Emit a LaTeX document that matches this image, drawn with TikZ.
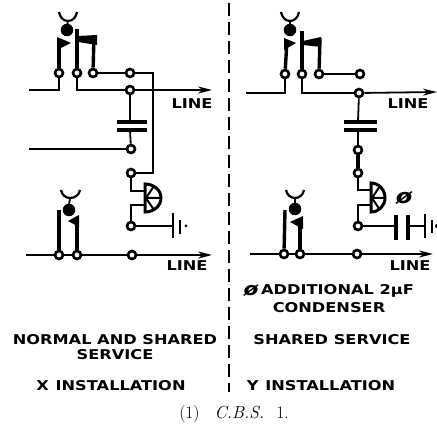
\documentclass[tikz,border=0pt]{standalone}
\usepackage{fontspec}
\setsansfont[FakeStretch=1.2]{DejaVu Sans}
\usetikzlibrary{arrows.meta,positioning,calc}
\tikzset{
    wire/.style={line width=1.8pt},
    spring/.style={line width=3.4pt},
    contact/.style={circle,draw,line width=2.6pt,fill=white,inner sep=0pt,minimum size=8pt},
    ball/.style={circle,fill=black,inner sep=0pt,minimum size=12.5pt},
    plate/.style={line width=3.2pt},
    plug/.style={line width=2.2pt},
    relay/.style={line width=3pt,fill=white},
    lbl/.style={font=\sffamily\bfseries\fontsize{13.5}{13.5}\selectfont,inner sep=0pt,align=center},
    lineout/.style={wire,-{Stealth[length=14pt,width=7pt]}}
}
\begin{document}
\begin{tikzpicture}[x=1pt,y=-1pt]
        \useasboundingbox (0,0) rectangle (437,427);

        % Divider
        \coordinate (divtop) at (229,3);
        \coordinate (divbot) at (229,392);
        \draw[line width=2pt,dash pattern=on 13pt off 6pt] (divtop) -- (divbot);

        % Contacts
        \foreach \name/\x/\y in {xa/59/73,xb/77/73,xc/93/73,xd/130/73,xe/130/90,xf/131/149,xg/131/173,xh/131/226,
                                 xi/59/255,xj/77/255,xk/132/255,
                                 ya/285/74,yb/302/74,yc/319/74,yd/360/74,ye/359/93,yf/358/150,yg/358/173,yh/358/226,
                                 yi/284/254,yj/300/254,yk/357/254}
            \node[contact] (\name) at (\x,\y) {};

        % X Installation, upper jack
        \draw[plug] (59,12) to[out=-80,in=180] (68,21) to[out=0,in=-100] (77,12);
        \draw[wire] (68,21) -- (67,26);
        \node[ball] (xplug) at (67,30) {};
        \draw[spring] (xa) -- (59,40);
        \fill (57,37) -- (71,43) -- (57,50) -- cycle;
        \draw[spring] (xb) -- (77,29);
        \draw[spring] (xc) -- (94,36);
        \fill (78,36) -- (97,35) -- (97,45) -- (78,42) -- cycle;
        \coordinate (xlinea) at (29,90);
        \coordinate (xlineb) at (212,90);
        \coordinate (xlinec) at (29,149);
        \coordinate (xbend) at (153,73);
        \draw[wire] (xa) |- (xlinea);
        \draw[wire] (xb) |- (xe);
        \draw[lineout] (xe) -- (xlineb);
        \draw[wire] (xc) -- (xd);
        \draw[wire] (xd) -- (xbend) |- (xg);
        \draw[wire] (xlinec) -- (xf);
        \node[lbl] (xline1) at (192,104) {LINE};

        % X condenser
        \draw[wire] (xe) -- (130,122);
        \draw[plate] (117,122) -- (147,122);
        \draw[plate] (117,130) -- (147,130);
        \draw[wire] (130,130) -- (xf);

        % X relay
        \draw[relay] (145,184) to[out=0,in=90] (161,198) to[out=-90,in=0] (145,212) -- cycle;
        \draw[line width=2pt] (146,198) -- (154,186) (146,198) -- (154,210) (146,198) -- (160,198);
        \coordinate (xrelaya) at (145,191);
        \coordinate (xrelayb) at (145,205);
        \draw[wire] (xg) |- (xrelaya);
        \draw[wire] (xh) |- (xrelayb);

        % X earth
        \coordinate (xearth) at (173,226);
        \draw[wire] (xh) -- (xearth);
        \draw[line width=2pt] (173,213) -- (173,238);
        \draw[line width=2.4pt] (180,220) -- (180,234);
        \fill (186,226) circle (1.5pt);

        % X Installation, lower jack
        \draw[plug] (61,190) to[out=-80,in=180] (70,198) to[out=0,in=-100] (80,190);
        \draw[wire] (70,198) -- (69,205);
        \node[ball] (xplugb) at (69,210) {};
        \draw[spring] (xi) -- (59,210);
        \draw[spring] (xj) -- (77,217);
        \fill (68,221) -- (79,215) -- (79,227) -- cycle;
        \coordinate (xlined) at (26,255);
        \coordinate (xlinee) at (212,255);
        \draw[wire] (xlined) -- (xi);
        \draw[wire] (xi) -- (xj);
        \draw[wire] (xj) -- (xk);
        \draw[lineout] (xk) -- (xlinee);
        \node[lbl] (xline2) at (187,266) {LINE};

        % Y Installation, upper jack
        \draw[plug] (281,12) to[out=-80,in=180] (290,21) to[out=0,in=-100] (299,12);
        \draw[wire] (290,21) -- (290,26);
        \node[ball] (yplug) at (290,30) {};
        \draw[spring] (ya) -- (287,40);
        \fill (284,38) -- (296,43) -- (284,50) -- cycle;
        \draw[spring] (yb) -- (302,31);
        \draw[spring] (yc) -- (320,38);
        \fill (303,41) -- (321,37) -- (321,47) -- (303,45) -- cycle;
        \coordinate (ylinea) at (246,93);
        \coordinate (ylineb) at (437,92);
        \draw[wire] (ya) |- (ylinea);
        \draw[wire] (yb) |- (ye);
        \draw[lineout] (ye) -- (ylineb);
        \draw[wire] (yc) -- (yd);
        \node[lbl] (yline1) at (408,104) {LINE};

        % Y condenser
        \draw[wire] (ye) -- (358,122);
        \draw[plate] (344,122) -- (377,122);
        \draw[plate] (344,130) -- (377,130);
        \draw[wire] (358,130) -- (yf);
        \draw[spring] (yf) -- (yg);

        % Y relay
        \draw[relay] (371,183) to[out=0,in=90] (385,198) to[out=-90,in=0] (371,212) -- cycle;
        \draw[line width=2pt] (372,198) -- (380,186) (372,198) -- (380,210) (372,198) -- (384,198);
        \coordinate (yrelaya) at (371,190);
        \coordinate (yrelayb) at (371,205);
        \draw[wire] (yg) |- (yrelaya);
        \draw[wire] (yh) |- (yrelayb);

        % Y additional condenser and earth
        \coordinate (yplatea) at (396,226);
        \coordinate (yplateb) at (408,226);
        \coordinate (yearth) at (425,226);
        \draw[wire] (yh) -- (yplatea);
        \draw[wire] (yplateb) -- (yearth);
        \draw[line width=4pt] (396,215) -- (396,240);
        \draw[line width=4pt] (408,215) -- (408,240);
        \draw[line width=2.2pt] (425,214) -- (425,238);
        \draw[line width=2.4pt] (432,220) -- (432,233);
        \fill (437,226) circle (2pt);
        \node[font=\sffamily\bfseries\itshape\fontsize{20}{20}\selectfont,inner sep=0pt] (yphi) at (404,198) {ø};

        % Y Installation, lower jack
        \draw[plug] (286,190) to[out=-80,in=180] (295,198) to[out=0,in=-100] (304,190);
        \draw[wire] (295,198) -- (295,204);
        \node[ball] (yplugb) at (295,209) {};
        \draw[spring] (yi) -- (285,210);
        \draw[spring] (yj) -- (300,218);
        \fill (290,222) -- (303,216) -- (303,229) -- cycle;
        \coordinate (ylined) at (250,254);
        \coordinate (ylinee) at (433,254);
        \draw[wire] (ylined) -- (yi);
        \draw[wire] (yi) -- (yj);
        \draw[wire] (yj) -- (yk);
        \draw[lineout] (yk) -- (ylinee);
        \node[lbl] (yline2) at (410,266) {LINE};

        % Labels
        \node[font=\sffamily\bfseries\itshape\fontsize{18}{18}\selectfont,inner sep=0pt] (addphi) at (251,291) {ø};
        \node[lbl,anchor=west] (addition) at (261,291) {ADDITIONAL 2µF};
        \node[lbl] (condenser) at (329,308) {CONDENSER};
        \node[lbl] (normal) at (115,340) {NORMAL AND SHARED};
        \node[lbl] (service) at (115,355) {SERVICE};
        \node[lbl] (shared) at (332,340) {SHARED SERVICE};
        \node[lbl] (xinst) at (111,386) {X\enspace INSTALLATION};
        \node[lbl] (yinst) at (321,386) {Y\enspace INSTALLATION};
        \node[inner sep=0pt,font=\fontsize{17.5}{17.5}\selectfont] (caption) at (234,414) {(1)\hspace{15pt}\textit{C.B.S.}\hspace{12pt}1.};
    \end{tikzpicture}
\end{document}
